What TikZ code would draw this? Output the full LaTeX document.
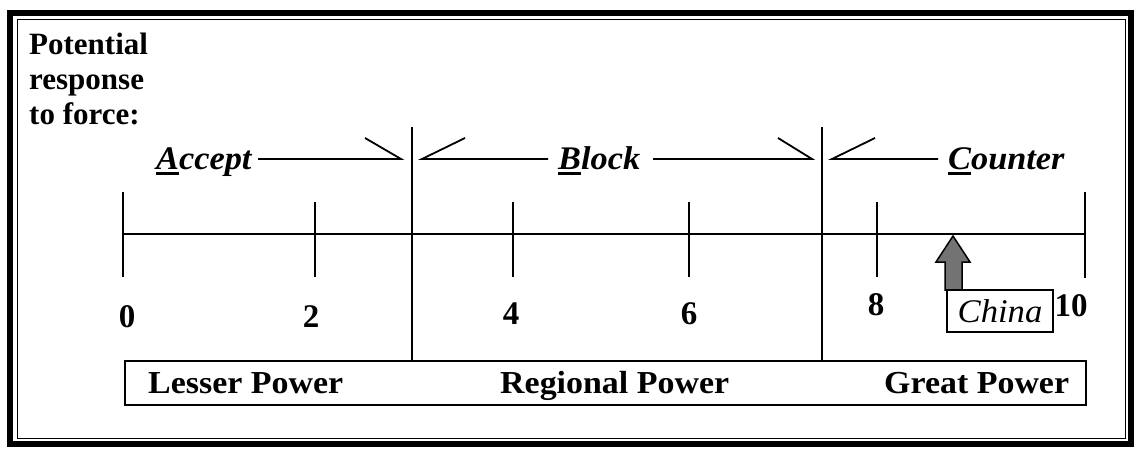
\documentclass[tikz,border=0pt]{standalone}
\usepackage{fontspec}
\setmainfont{Liberation Serif}
\newcommand{\firstul}[1]{\setbox0\hbox{#1}\rlap{\rule[-5pt]{\wd0}{2.5pt}}\box0}
\begin{document}
\begin{tikzpicture}[x=1pt,y=-1pt,
  head/.style={inner sep=0pt, anchor=base west, align=left,
    font=\bfseries\fontsize{31}{35}\selectfont},
  resp/.style={inner sep=0pt, anchor=base west,
    font=\bfseries\itshape\fontsize{33}{36}\selectfont},
  num/.style={inner sep=0pt, anchor=base,
    font=\bfseries\fontsize{33}{36}\selectfont},
  pow/.style={inner sep=0pt, anchor=base west,
    font=\bfseries\fontsize{32}{36}\selectfont},
  axisline/.style={line width=2pt},
  thinline/.style={line width=1.8pt}]
\useasboundingbox (0,0) rectangle (1134,454);
% frame
\draw[line width=6pt] (10,13) rectangle (1131,444);
\draw[line width=1pt] (17,19.5) rectangle (1125,438.5);
% left heading
\node[head] (pot) at (29,55) {Potential};
\node[head] (rsp) at (29,90) {response};
\node[head] (tof) at (29,125) {to force:};
% response labels
\node[resp] (acc) at (156,170) {\scalebox{1.04}[1]{\firstul{A}ccept}};
\node[resp] (blk) at (558,170) {\scalebox{1.04}[1]{\firstul{B}lock}};
\node[resp] (cnt) at (948,170) {\scalebox{1.04}[1]{\firstul{C}ounter}};
% dividers
\coordinate (d1t) at (412,127);
\coordinate (d1b) at (412,361);
\coordinate (d2t) at (822,127);
\coordinate (d2b) at (822,361);
\draw[thinline] (d1t) -- (d1b);
\draw[thinline] (d2t) -- (d2b);
% half arrows
\coordinate (a1) at (401,159);
\coordinate (b0) at (422,159);
\coordinate (b1) at (812,159);
\coordinate (c0) at (832,159);
\draw[thinline] (258,159) -- (a1) -- ++(-36,-21);
\draw[thinline] (548,159) -- (b0) -- ++(43,-21);
\draw[thinline] (653,159) -- (b1) -- ++(-34,-21);
\draw[thinline] (938,159) -- (c0) -- ++(43,-21);
% axis
\coordinate (t0) at (123,234);
\coordinate (t10) at (1085,234);
\draw[axisline] (t0) -- (t10);
\draw[axisline] (123,192) -- (123,277);
\draw[axisline] (1085,192) -- (1085,278);
\foreach \x in {315,513,689,877} \draw[axisline] (\x,202) -- (\x,277);
% numbers
\node[num] (n0) at (127,327) {0};
\node[num] (n2) at (311,327) {2};
\node[num] (n4) at (511,324) {4};
\node[num] (n6) at (689,324) {6};
\node[num] (n8) at (876,315) {8};
\node[num] (n10) at (1071,316) {10};
% China marker
\draw[line width=1.5pt, fill=black!55] (953,236) -- (970,262) -- (962,262) -- (962,290) -- (945,290) -- (945,262) -- (936,262) -- cycle;
\draw[line width=1.4pt] (947,290) rectangle (1053,332);
\node[inner sep=0pt, anchor=base, font=\itshape\fontsize{33}{36}\selectfont] (chn) at (1000,322) {\scalebox{1.05}[1]{China}};
% bottom scale box
\draw[line width=1.4pt] (125,361) rectangle (1086,405);
\node[pow] (lp) at (148,393) {\scalebox{1.06}[1]{Lesser Power}};
\node[pow] (rp) at (500,393) {\scalebox{1.06}[1]{Regional Power}};
\node[pow] (gp) at (884,393) {\scalebox{1.06}[1]{Great Power}};
\end{tikzpicture}
\end{document}
